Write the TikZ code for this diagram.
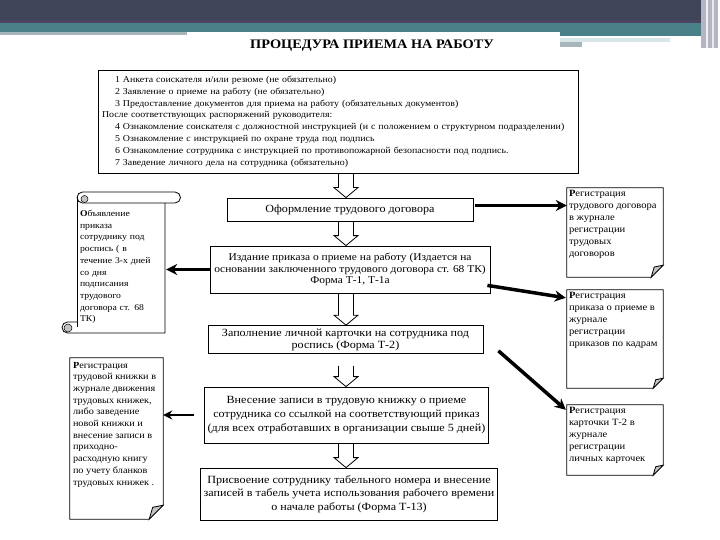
\documentclass[tikz,border=0pt]{standalone}
\usepackage{fontspec}
\setmainfont[FakeStretch=1.1]{Liberation Serif}
\usetikzlibrary{arrows.meta,calc}
\definecolor{hdark}{HTML}{3F4458}
\definecolor{hpurp}{HTML}{4A4462}
\definecolor{hteal}{HTML}{4A8088}
\definecolor{hgray}{HTML}{A6B6BA}
\definecolor{hlight}{HTML}{D8E6E8}
\definecolor{hvert}{HTML}{B4B4C4}
\definecolor{foldc}{HTML}{C4C4C4}
\newcommand\foldoutline[2]{%
  \draw[boxline] (#1.north west) -- (#1.north east) -- ($(#1.south east)+(0,-#2)$)
     -- ($(#1.south east)+(-#2,0)$) -- (#1.south west) -- cycle;
  \filldraw[boxline,fill=foldc] ($(#1.south east)+(0,-#2)$) -- ($(#1.south east)+(-#2,0)$)
     -- ($(#1.south east)+(-0.75*#2,-0.85*#2)$) -- cycle;}
\newcommand\blockarrow[3]{%
  \draw[boxline] ($(#1.south -| ax)+(-7.5,#3)$) -- ($(#2.north -| ax)+(-7.5,-10)$)
     -- ($(#2.north -| ax)+(-12,-10)$) -- (#2.north -| ax) -- ($(#2.north -| ax)+(12,-10)$)
     -- ($(#2.north -| ax)+(7.5,-10)$) -- ($(#1.south -| ax)+(7.5,#3)$);}
\begin{document}
\begin{tikzpicture}[x=1pt,y=-1pt,
  boxline/.style={draw=black,line width=0.8pt},
  box/.style={boxline,fill=white,inner sep=3pt},
  ctxt/.style={font=\fontsize{11}{13.5}\selectfont,align=center},
  ttxt/.style={font=\fontsize{9}{11.8}\selectfont,align=left},
  stxt/.style={font=\fontsize{9.6}{12}\selectfont,align=left,inner sep=2pt},
  area/.style={inner sep=0pt,draw=none},
  thk/.style={line width=3.5pt,-{Stealth[length=11pt,width=11pt]}},
  thn/.style={line width=2pt,-{Stealth[length=9pt,width=9pt]}}]
\useasboundingbox (0,0) rectangle (720,540);
\fill[white] (0,0) rectangle (720,540);
% header
\fill[hdark] (0,0) rectangle (701,23);
\fill[hpurp] (0,20) rectangle (701,23);
\fill[hteal] (0,23) rectangle (701,32);
\fill[hgray] (0,32) rectangle (187,35);
\fill[hteal] (560,32) rectangle (701,36);
\fill[hlight] (560,38) rectangle (670,42);
\fill[hgray] (560,42) rectangle (582,47);
\fill[hvert] (701,0) rectangle (718,48);
\fill[white!80!hvert] (706,0) rectangle (708,48);
\fill[white!70!hvert] (712,0) rectangle (714,48);
\node[font=\bfseries\fontsize{13}{15}\selectfont] (title) at (372,46) {ПРОЦЕДУРА ПРИЕМА НА РАБОТУ};
% top box
\node[box,ttxt,text width=472pt,minimum height=103pt,inner sep=4pt] (top) at (338,121.5) {%
\hspace*{13pt}1 Анкета соискателя и/или резюме (не обязательно)\\
\hspace*{13pt}2 Заявление о приеме на работу (не обязательно)\\
\hspace*{13pt}3 Предоставление документов для приема на работу (обязательных документов)\\
После соответствующих распоряжений руководителя:\\
\hspace*{13pt}4 Ознакомление соискателя с должностной инструкцией (и с положением о структурном подразделении)\\
\hspace*{13pt}5 Ознакомление с инструкцией по охране труда под подпись\\
\hspace*{13pt}6 Ознакомление сотрудника с инструкцией по противопожарной безопасности под подпись.\\
\hspace*{13pt}7 Заведение личного дела на сотрудника (обязательно)};
% center boxes
\node[box,ctxt,minimum width=246pt,minimum height=23pt] (ofo) at (350,209.5) {Оформление трудового договора};
\node[box,ctxt,minimum width=280pt,minimum height=47pt,font=\fontsize{10.4}{11.5}\selectfont] (izd) at (350,269.5) {Издание приказа о приеме на работу (Издается на\\основании заключенного трудового договора ст. 68 ТК)\\Форма Т-1, Т-1а};
\node[box,ctxt,minimum width=275pt,minimum height=27pt,font=\fontsize{11}{12}\selectfont] (zap) at (345.5,339.5) {Заполнение личной карточки на сотрудника под\\роспись (Форма Т-2)};
\node[box,ctxt,minimum width=277pt,minimum height=56pt,font=\fontsize{11}{14}\selectfont] (vne) at (346.5,415) {Внесение записи в трудовую книжку о приеме\\сотрудника со ссылкой на соответствующий приказ\\(для всех отработавших в организации свыше 5 дней)};
\node[box,ctxt,minimum width=296pt,minimum height=52pt] (pri) at (349,494) {Присвоение сотруднику табельного номера и внесение\\записей в табель учета использования рабочего времени\\о начале работы (Форма Т-13)};
% block arrows
\coordinate (ax) at (346,0);
\blockarrow{top}{ofo}{0}
\blockarrow{ofo}{izd}{0}
\blockarrow{izd}{zap}{0}
\blockarrow{zap}{vne}{12}
\blockarrow{vne}{pri}{0}
% left scroll
\node[area,stxt,minimum width=88pt,minimum height=127pt,text width=84pt,font=\fontsize{8.8}{11.7}\selectfont] (scr) at (122,267) {%
\textbf{О}бъявление\\приказа\\сотруднику под\\роспись ( в\\течение 3-х дней\\со дня\\подписания\\трудового\\договора ст. 68\\ТК)};
\begin{scope}[shift={(77,200)}]
  \draw[boxline] (5.5,-8) -- (98,-8) arc[start angle=90,end angle=-90,radius=5.5pt] -- (5.5,3)
     arc[start angle=270,end angle=90,radius=5.5pt];
  \draw[boxline] (88,3) -- (88,133) -- (-9.5,133) arc[start angle=270,end angle=90,radius=5.5pt] -- (0,122);
  \draw[boxline] (0,-2.5) -- (0,127);
  \filldraw[boxline,line width=0.5pt,fill=foldc] (7.5,-1) circle[radius=3.5pt];
  \filldraw[boxline,line width=0.5pt,fill=foldc] (-9,128) circle[radius=4pt];
\end{scope}
% left bottom box
\node[area,minimum width=93pt,minimum height=161pt] (lb) at (116.5,438.5) {};
\foldoutline{lb}{14}
\node[stxt,anchor=north west,font=\fontsize{9.3}{11.7}\selectfont] (lbt) at ($(lb.north west)+(1,2)$) {%
\textbf{Р}егистрация\\трудовой книжки в\\журнале движения\\трудовых книжек,\\либо заведение\\новой книжки и\\внесение записи в\\приходно-\\расходную книгу\\по учету бланков\\трудовых книжек .};
% right boxes
\node[area,minimum width=96pt,minimum height=89pt] (r1) at (615,232.5) {};
\foldoutline{r1}{12}
\node[stxt,anchor=north west] (r1t) at (r1.north west) {%
\textbf{Р}егистрация\\трудового договора\\в журнале\\регистрации\\трудовых\\договоров};
\node[area,minimum width=96pt,minimum height=98pt] (r2) at (615,339) {};
\foldoutline{r2}{10}
\node[stxt,anchor=north west] (r2t) at (r2.north west) {%
\textbf{Р}егистрация\\приказа о приеме в\\журнале\\регистрации\\приказов по кадрам};
\node[area,minimum width=96pt,minimum height=70pt] (r3) at (615,440) {};
\foldoutline{r3}{10}
\node[stxt,anchor=north west] (r3t) at (r3.north west) {%
\textbf{Р}егистрация\\карточки Т-2 в\\журнале\\регистрации\\личных карточек};
% connectors
\draw[thk] ($(ofo.east)+(2,-4)$) -- ($(ofo.east -| r1.west)+(0,-4)$);
\draw[thk] ($(izd.south east)+(-3,-8)$) -- ($(r2.north west)+(-1,8)$);
\draw[thk] ($(zap.south east)+(15,-3)$) -- ($(r3.north west)+(-1,5)$);
\draw[thk] (izd.west) -- (izd.west -| scr.east);
\draw[thn] ($(vne.west)+(-10,0)$) -- (vne.west -| lb.east);
\end{tikzpicture}
\end{document}
